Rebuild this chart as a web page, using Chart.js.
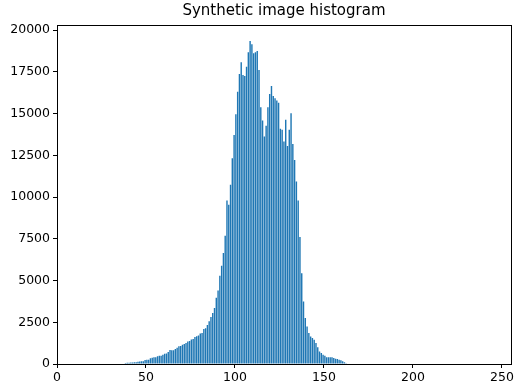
<!DOCTYPE html>
<html>
<head>
<meta charset="utf-8">
<script src="https://cdn.jsdelivr.net/npm/chart.js@4.4.1/dist/chart.umd.min.js"></script>
<style>
  html, body { margin: 0; padding: 0; background: #fff; }
</style>
</head>
<body>
<canvas id="hist" width="516" height="390"></canvas>
<script>
// grey levels that have a non-empty bin (one bin per level)
const levels = [
  38, 39, 40, 41, 42, 43, 44, 45, 46, 47, 48, 49,
  50, 51, 52, 53, 54, 55, 56, 57, 58, 59,
  60, 61, 62, 63, 64, 65, 66, 67, 68, 69,
  70, 71, 72, 73, 74, 75, 76, 77, 78, 79,
  80, 81, 82, 83, 84, 85, 86, 87, 88, 89,
  90, 91, 92, 93, 94, 95, 96, 97, 98, 99,
  100, 101, 102, 103, 104, 105, 106, 107, 108, 109,
  110, 111, 112, 113, 114, 115, 116, 117, 118, 119,
  120, 121, 122, 123, 124, 125, 126, 127, 128, 129,
  130, 131, 132, 133, 134, 135, 136, 137, 138, 139,
  140, 141, 142, 143, 144, 145, 146, 147, 148, 149,
  150, 151, 152, 153, 154, 155, 156, 157, 158, 159,
  160, 161, 162
];
// pixel counts
const counts = [
  60, 80, 80, 90, 90, 100, 100, 140, 150, 160, 170, 240,
  260, 260, 340, 380, 400, 410, 460, 490, 500, 560,
  610, 630, 720, 840, 820, 820, 900, 980, 1060, 1080,
  1160, 1200, 1260, 1340, 1380, 1460, 1500, 1620, 1660, 1700,
  1820, 1860, 2100, 2140, 2340, 2560, 2820, 3060, 3360, 3960,
  4400, 5280, 5880, 6640, 7680, 9790, 9530, 10730, 12320, 13720,
  14960, 16310, 17370, 18070, 17310, 17250, 17800, 18670, 19340, 19150,
  18610, 18670, 18750, 17610, 15380, 14580, 13620, 14260, 15380, 16170,
  16650, 16050, 15920, 15780, 15650, 14080, 14020, 13320, 14620, 13060,
  14020, 15020, 13180, 12220, 10930, 9790, 7600, 5440, 3750, 2750,
  2250, 1850, 1650, 1550, 1450, 1260, 1000, 750, 660, 560,
  500, 400, 400, 400, 400, 360, 320, 300, 260, 220,
  160, 100, 40
];
const xTicks = [0, 50, 100, 150, 200, 250];
const yTicks = [0, 2500, 5000, 7500, 10000, 12500, 15000, 17500, 20000];

const FONT = 'DejaVu Sans';

// matplotlib style frame round the plot area
const frame = {
  id: 'frame',
  afterDraw(chart) {
    const a = chart.chartArea, ctx = chart.ctx;
    ctx.save();
    ctx.strokeStyle = '#000';
    ctx.lineWidth = 1;
    ctx.strokeRect(Math.round(a.left) + 0.5, Math.round(a.top) + 0.5,
                   Math.round(a.right - a.left), Math.round(a.bottom - a.top));
    ctx.restore();
  }
};

new Chart(document.getElementById('hist'), {
  type: 'bar',
  data: {
    datasets: [{
      data: levels.map((v, i) => ({ x: v + 0.5, y: counts[i] })),
      backgroundColor: '#1f77b4',
      borderWidth: 0,
      barPercentage: 0.8,
      categoryPercentage: 1
    }]
  },
  options: {
    responsive: false,
    animation: false,
    devicePixelRatio: 1,
    layout: { padding: { left: 0, right: 3, top: 0, bottom: 0 } },
    plugins: {
      legend: { display: false },
      tooltip: { enabled: false },
      title: {
        display: true,
        fullSize: false,
        text: 'Synthetic image histogram',
        color: '#000',
        font: { family: FONT, size: 15, weight: 'normal' },
        padding: { top: 2, bottom: 5 }
      }
    },
    scales: {
      x: {
        type: 'linear',
        offset: false,
        min: 0,
        max: 255,
        afterBuildTicks: s => { s.ticks = xTicks.map(v => ({ value: v })); },
        afterFit: s => { s.height = 26; },
        grid: { offset: false, drawOnChartArea: false, drawTicks: true, tickLength: 4, color: '#000' },
        border: { display: false },
        ticks: {
          color: '#000',
          font: { family: FONT, size: 12.5 },
          padding: 2,
          maxRotation: 0,
          autoSkip: false,
          callback: v => String(v)
        }
      },
      y: {
        min: 0,
        max: 20300,
        afterBuildTicks: s => { s.ticks = yTicks.map(v => ({ value: v })); },
        afterFit: s => { s.width = 57; },
        grid: { drawOnChartArea: false, drawTicks: true, tickLength: 4, color: '#000' },
        border: { display: false },
        ticks: {
          color: '#000',
          font: { family: FONT, size: 12.5 },
          padding: 3,
          autoSkip: false,
          callback: v => String(v)
        }
      }
    }
  },
  plugins: [frame]
});
</script>
</body>
</html>
